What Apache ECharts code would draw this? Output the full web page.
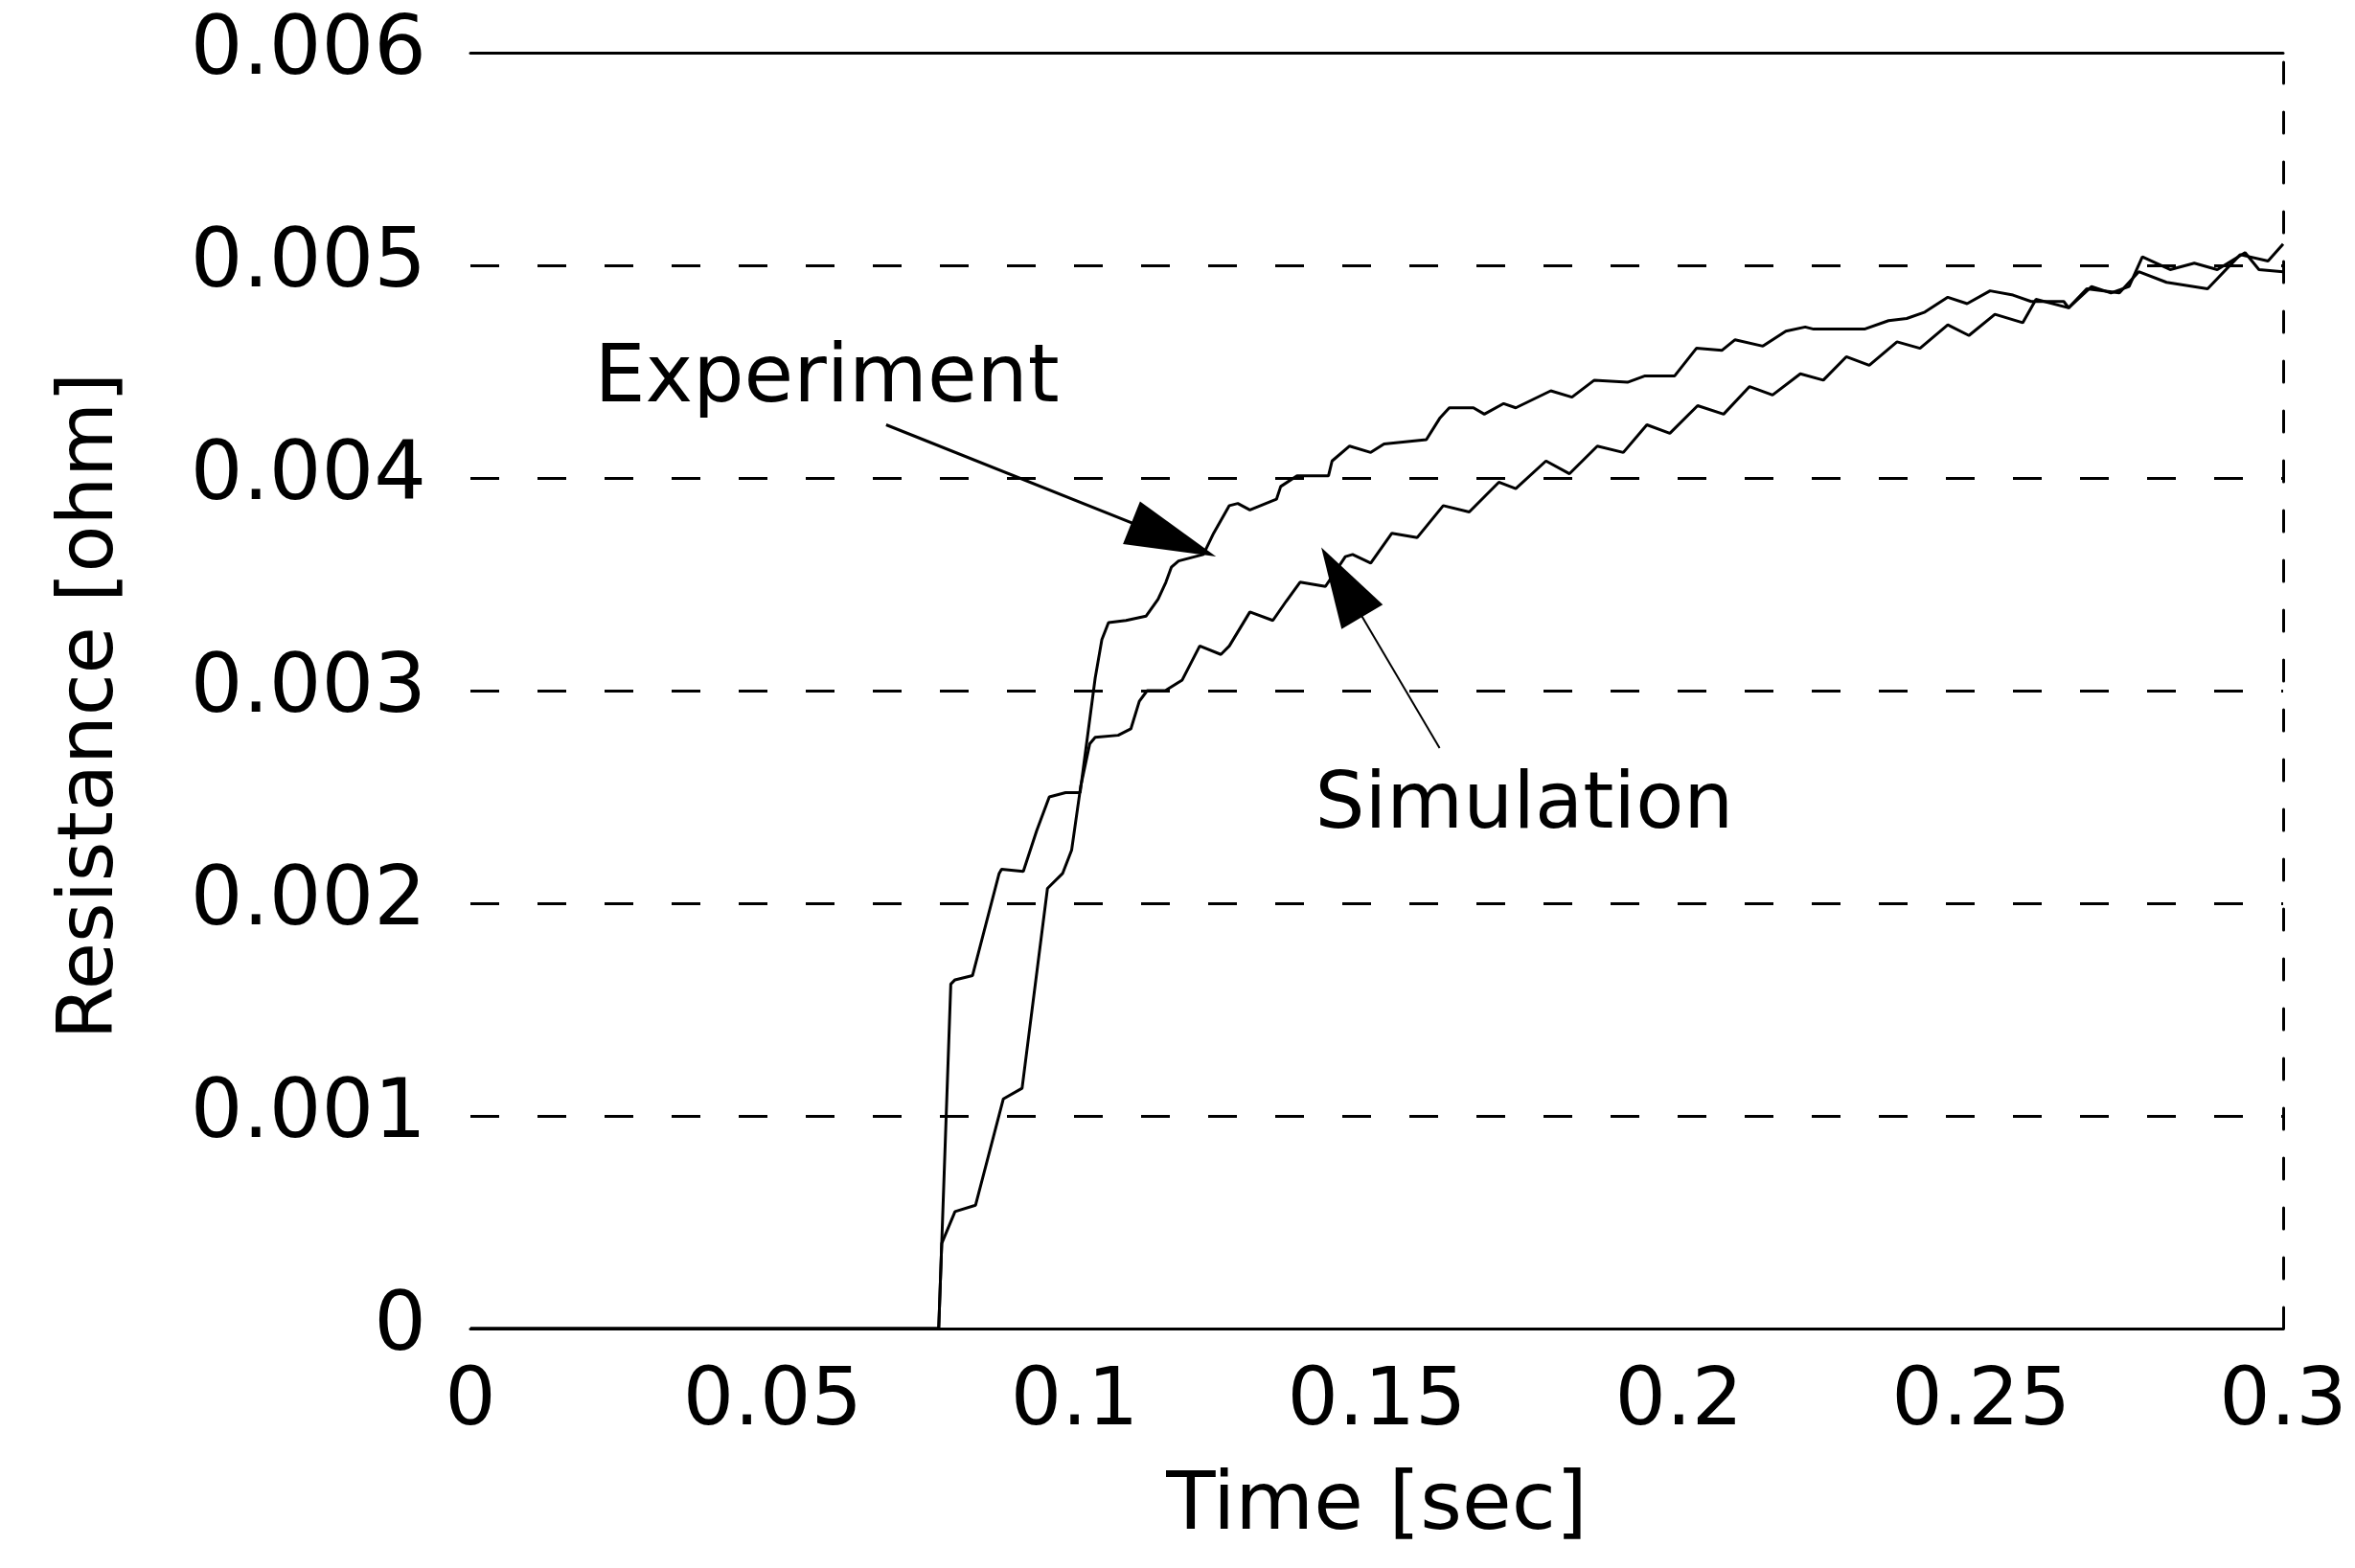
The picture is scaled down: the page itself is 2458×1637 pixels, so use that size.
<!DOCTYPE html>
<html>
<head>
<meta charset="utf-8">
<script src="https://cdn.jsdelivr.net/npm/echarts@6/dist/echarts.min.js"></script>
<style>
html,body{margin:0;padding:0;background:#fff;}
#chart{width:2458px;height:1637px;}
</style>
</head>
<body>
<div id="chart"></div>
<script>
// ---- data ----
const xTickLabels = ['0', '0.05', '0.1', '0.15', '0.2', '0.25', '0.3'];
const yTickLabels = ['0', '0.001', '0.002', '0.003', '0.004', '0.005', '0.006'];

const expT = [0, 0.0775, 0.078, 0.0795, 0.0802, 0.0831, 0.0875, 0.0879, 0.0915, 0.0937, 0.0958, 0.0985, 0.1009,
  0.1034, 0.1045, 0.1056, 0.1085, 0.1118, 0.1138, 0.1151, 0.116, 0.1172, 0.1213, 0.1230, 0.1256, 0.1270, 0.129,
  0.1334, 0.1341, 0.1368, 0.142, 0.1426, 0.1455, 0.149, 0.1512, 0.1582, 0.1604, 0.162, 0.166, 0.1678, 0.171,
  0.173, 0.1788, 0.1823, 0.186, 0.1915, 0.1944, 0.1993, 0.2029, 0.2071, 0.2093, 0.2139, 0.2177, 0.2209, 0.2223,
  0.2307, 0.2347, 0.2377, 0.2407, 0.2445, 0.2477, 0.2515, 0.2553, 0.2583, 0.2637, 0.2645, 0.2683, 0.2715, 0.2745,
  0.2767, 0.2813, 0.2853, 0.2891, 0.2937, 0.296, 0.3];
const expR = [0, 0, 0.0004, 0.00162, 0.00164, 0.00166, 0.00214, 0.00216, 0.00215, 0.00234, 0.00250, 0.00252, 0.00252,
  0.00306, 0.00324, 0.00332, 0.00333, 0.00335, 0.00343, 0.00351, 0.00358, 0.00361, 0.00364, 0.00374, 0.00387, 0.00388, 0.00385,
  0.0039, 0.00396, 0.00401, 0.00401, 0.00408, 0.00415, 0.00412, 0.00416, 0.00418, 0.00428, 0.00433, 0.00433, 0.0043, 0.00435,
  0.00433, 0.00441, 0.00438, 0.00446, 0.00445, 0.00448, 0.00448, 0.00461, 0.0046, 0.00465, 0.00462, 0.00469, 0.00471, 0.0047,
  0.0047, 0.00474, 0.00475, 0.00478, 0.00485, 0.00482, 0.00488, 0.00486, 0.00483, 0.00483, 0.0048, 0.0049, 0.00487, 0.0049,
  0.00504, 0.00498, 0.00501, 0.00498, 0.00506, 0.00498, 0.00497];

const simT = [0, 0.0775, 0.078, 0.0802, 0.0836, 0.0882, 0.0913, 0.0955, 0.098, 0.0995, 0.101, 0.1025, 0.1034, 0.1072,
  0.1093, 0.1107, 0.112, 0.115, 0.1178, 0.1207, 0.1242, 0.1256, 0.129, 0.1328, 0.135, 0.1373, 0.1415, 0.1448, 0.146,
  0.149, 0.1525, 0.1567, 0.161, 0.1653, 0.1702, 0.173, 0.178, 0.1819, 0.1865, 0.1908, 0.1947, 0.1985, 0.2031, 0.2074,
  0.2117, 0.2155, 0.2201, 0.2239, 0.2277, 0.2315, 0.2361, 0.2399, 0.2445, 0.248, 0.2523, 0.2569, 0.2591, 0.2645,
  0.2675, 0.2729, 0.2761, 0.2807, 0.2875, 0.2929, 0.2975, 0.3];
const simR = [0, 0, 0.0004, 0.00055, 0.00058, 0.00108, 0.00113, 0.00207, 0.00214, 0.00225, 0.00255, 0.00275, 0.00278, 0.00279,
  0.00282, 0.00295, 0.003, 0.003, 0.00305, 0.00321, 0.00317, 0.00321, 0.00337, 0.00333, 0.00342, 0.00351, 0.00349, 0.00363, 0.00364,
  0.0036, 0.00374, 0.00372, 0.00387, 0.00384, 0.00398, 0.00395, 0.00408, 0.00402, 0.00415, 0.00412, 0.00425, 0.00421, 0.00434, 0.0043,
  0.00443, 0.00439, 0.00449, 0.00446, 0.00457, 0.00453, 0.00464, 0.00461, 0.00472, 0.00467, 0.00477, 0.00473, 0.00484, 0.0048,
  0.00489, 0.00487, 0.00497, 0.00492, 0.00489, 0.00505, 0.00502, 0.0051];

// annotation anchors (data coordinates)
const expLabelAt = [0.0590, 0.00446];
const expArrowFrom = [0.0688, 0.00425];
const expArrowTo = [0.1164, 0.00371];
const simLabelAt = [0.1744, 0.00245];
const simArrowFrom = [0.1604, 0.00273];
const simArrowTo = [0.1442, 0.00351];

const FONT = 'DejaVu Sans';
const zip = (a, b) => a.map((v, i) => [v, b[i]]);

const chart = echarts.init(document.getElementById('chart'), null, {renderer: 'canvas'});
const lbl = (arr, step) => (v) => {
  const i = Math.round(v / step);
  return arr[i] !== undefined ? arr[i] : '';
};

chart.setOption({
  backgroundColor: '#fff',
  animation: false,
  grid: {left: 491, right: 75, top: 55, bottom: 250, containLabel: false},
  xAxis: [{
    type: 'value', min: 0, max: 0.3, interval: 0.05, position: 'bottom',
    axisLine: {show: true, onZero: false, lineStyle: {color: '#000', width: 3}},
    axisTick: {show: false},
    splitLine: {show: false},
    axisLabel: {color: '#000', fontSize: 84, fontFamily: FONT, margin: 36, formatter: lbl(xTickLabels, 0.05)},
    name: 'Time [sec]', nameLocation: 'middle', nameGap: 145,
    nameTextStyle: {color: '#000', fontSize: 84, fontFamily: FONT}
  }, {
    type: 'value', min: 0, max: 0.3, position: 'top',
    axisLine: {show: true, onZero: false, lineStyle: {color: '#000', width: 3}},
    axisTick: {show: false}, axisLabel: {show: false}, splitLine: {show: false}
  }],
  yAxis: [{
    type: 'value', min: 0, max: 0.006, interval: 0.001, position: 'left',
    axisLine: {show: false, onZero: false}, axisTick: {show: false},
    splitLine: {show: true, lineStyle: {color: '#000', width: 3, type: [30, 40]}},
    axisLabel: {color: '#000', fontSize: 86, fontFamily: FONT, margin: 46, formatter: lbl(yTickLabels, 0.001)},
    name: 'Resistance [ohm]', nameLocation: 'middle', nameGap: 355,
    nameTextStyle: {color: '#000', fontSize: 80, fontFamily: FONT, padding: [0, 32, 0, 0]}
  }, {
    type: 'value', min: 0, max: 0.006, position: 'right',
    axisLine: {show: true, onZero: false, lineStyle: {color: '#000', width: 3, type: [22, 30]}},
    axisTick: {show: false}, axisLabel: {show: false}, splitLine: {show: false}
  }],
  series: [{
    name: 'Experiment', type: 'line', data: zip(expT, expR),
    showSymbol: false, symbol: 'none',
    lineStyle: {color: '#000', width: 3},
    markLine: {
      silent: true, animation: false,
      lineStyle: {color: '#000', width: 3, type: 'solid'},
      label: {show: false},
      symbol: ['none', 'triangle'], symbolSize: [48, 95],
      data: [[{coord: expArrowFrom}, {coord: expArrowTo}]]
    },
    markPoint: {
      silent: true, symbol: 'circle', symbolSize: 1,
      itemStyle: {color: 'rgba(0,0,0,0)'},
      label: {show: true, position: 'inside', color: '#000', fontSize: 84, fontFamily: FONT, formatter: '{b}'},
      data: [{name: 'Experiment', coord: expLabelAt}]
    }
  }, {
    name: 'Simulation', type: 'line', data: zip(simT, simR),
    showSymbol: false, symbol: 'none',
    lineStyle: {color: '#000', width: 3},
    markLine: {
      silent: true, animation: false,
      lineStyle: {color: '#000', width: 2, type: 'solid'},
      label: {show: false},
      symbol: ['none', 'triangle'], symbolSize: [50, 84],
      data: [[{coord: simArrowFrom}, {coord: simArrowTo}]]
    },
    markPoint: {
      silent: true, symbol: 'circle', symbolSize: 1,
      itemStyle: {color: 'rgba(0,0,0,0)'},
      label: {show: true, position: 'inside', color: '#000', fontSize: 82, fontFamily: FONT, formatter: '{b}'},
      data: [{name: 'Simulation', coord: simLabelAt}]
    }
  }]
});
</script>
</body>
</html>
